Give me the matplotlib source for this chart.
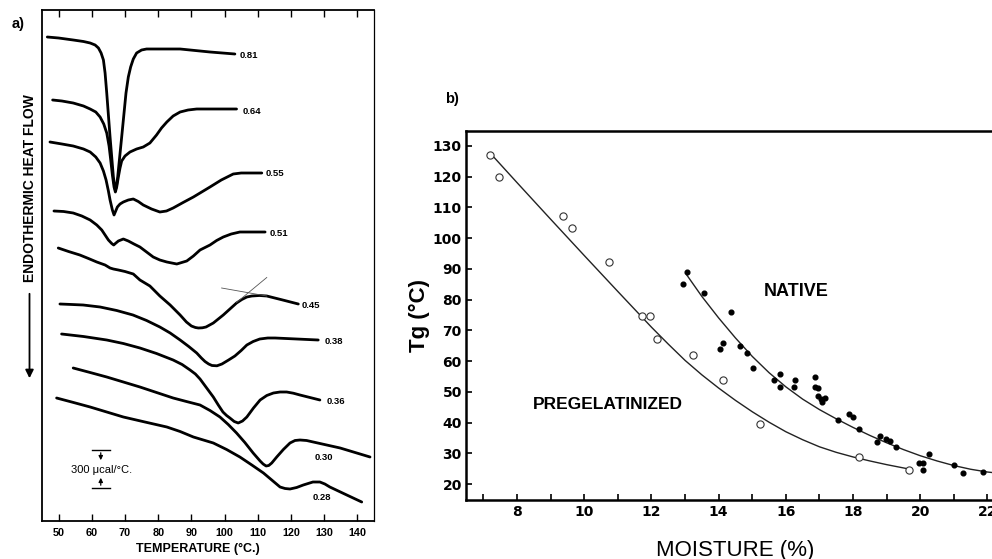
import numpy as np
import matplotlib
matplotlib.use("Agg")
import matplotlib.pyplot as plt
from matplotlib.ticker import MultipleLocator

plt.rcParams['font.family'] = ['Liberation Sans', 'DejaVu Sans']

# ---- panel a: DSC traces, temperature (deg C) vs heat flow (arbitrary offset units)
t_081 = [46.6, 50, 54.4, 57.5, 59.5, 61, 62, 62.8, 63.5, 64, 64.5, 65.5, 66.5, 66.9, 67.1, 67.4, 67.8,
         69.0, 70.3, 71, 71.7, 72.5, 73.5, 75, 76.5, 86.6, 95.6, 103.1]
h_081 = [484, 483, 481, 479.5, 478, 476, 473, 468, 461, 448, 428, 384, 344, 334, 331, 334, 344,
         384, 428, 444, 454, 462, 468, 471, 472, 472, 469, 467]

t_064 = [48.2, 51, 54.4, 57.5, 59.5, 61.2, 62.5, 63.6, 64.5, 65.2, 65.7, 66.2, 66.7, 67.1, 67.5, 68.0,
         68.5, 69.0, 70, 71.5, 73.5, 75.5, 77.5, 79.5, 81, 82.6, 84.5, 86.6, 89, 91.6, 103.6]
h_064 = [421, 420, 418, 415, 412, 409, 404, 397, 388, 375, 361, 346, 334, 329, 334, 344,
         353, 360, 365, 369, 372, 374, 378, 386, 393, 399, 405, 409, 411, 412, 412]

t_055 = [47.4, 51, 54.4, 57.5, 59.5, 61.2, 62.5, 63.5, 64.3, 65.0, 65.5, 66.2, 66.7, 67.2, 67.7, 68.5,
         69.5, 71, 72.5, 74, 75.5, 78, 80.5, 82.5, 84.5, 87.5, 90.6, 95.6, 99, 102.6, 105, 111.2]
h_055 = [379, 377, 375, 372, 369, 364, 358, 350, 341, 330, 321, 311, 306, 310, 314, 317,
         319, 321, 322, 319.5, 316, 312, 309, 310, 313, 318.5, 324, 334, 341, 347, 348, 348]

t_051 = [48.6, 51.5, 54.4, 57, 59.5, 61.5, 63.0, 64.2, 65.0, 66.0, 66.6, 67.1, 68.0, 69.5, 71.0, 72.7,
         74.5, 76.5, 78.5, 80.5, 82.6, 85.6, 88.6, 90.6, 92.6, 95.6, 97.6, 99.6, 102, 104.6, 112.2]
h_051 = [310, 309.5, 308, 305, 301, 296, 291, 285, 281, 277.5, 276, 277.5, 280, 282, 280, 277,
         274, 269, 264, 261, 259, 257, 260, 265, 271, 276, 280.5, 284, 287, 289, 289]

t_045 = [49.9, 53, 56.4, 59, 61.5, 64.0, 65.5, 66.5, 68.0, 70, 72.5, 74.5, 77.5, 80.5, 83.6, 86.6,
         88.5, 90.0, 91.2, 92.1, 93.3, 94.4, 96.6, 99.6, 101.6, 103.6, 105.2, 106.7, 108.2, 110.5,
         112.7, 117.5, 122.2]
h_045 = [273, 269.5, 266, 262.5, 259, 256, 253, 252, 251, 249.5, 247, 241, 235, 225, 216, 206,
         199, 195, 193.5, 193, 193.2, 194, 198, 206, 212, 218, 221.5, 224, 225, 225.5,
         225, 221, 217]

t_038 = [50.4, 54, 57.4, 62.5, 67.5, 72.4, 76.5, 80.5, 83.6, 86.6, 89.2, 91.6, 93, 94.1, 95.2, 96.2,
         97.7, 99.2, 101.2, 103.1, 105, 106.7, 108.6, 110.6, 113, 115.2, 128.2]
h_038 = [217, 216.5, 216, 214, 210.5, 206, 200.5, 194, 188, 181, 174.5, 168, 163, 159.5, 157, 155.5,
         155.2, 157, 161, 165, 170.5, 176, 179.5, 182, 183, 183, 181]

t_036 = [50.9, 57.5, 64.5, 69.5, 74.5, 79.5, 84.5, 87.2, 89.6, 91.2, 92.6, 94.6, 96.6, 98.1, 99.5,
         100.6, 101.6, 102.9, 104.1, 105.4, 106.7, 108.7, 110.7, 112.7, 114.7, 116.7, 118.7, 120.7,
         122.7, 128.7]
h_036 = [187, 184.5, 181, 177.5, 173, 167.5, 161, 156.5, 151, 147, 142, 133, 124, 116, 109,
         105.5, 103, 99.5, 98, 100, 104, 113, 121, 125.5, 128, 129, 129, 127.8,
         126, 121]

t_030 = [54.4, 59.5, 64.5, 69.5, 74.5, 79.5, 84.5, 88.5, 92.6, 95.6, 98.6, 101.1, 103.6, 106.1, 108.6,
         110.7, 111.6, 112.5, 113.3, 114.2, 115.7, 117.7, 119.7, 121.2, 122.7, 124.7, 126.7, 134.8, 143.8]
h_030 = [153, 148.5, 144, 139, 134, 128.5, 123, 119.5, 116, 110.5, 104, 96.5, 88, 78.5, 68,
         60, 57, 55, 55.5, 58, 64, 71.5, 78, 80.5, 81, 80.5, 79, 73, 64]

t_028 = [49.4, 54.5, 59.5, 64.5, 69.5, 76, 82.6, 86.6, 90.6, 93.6, 96.6, 100.6, 104.6, 108.2, 111.7,
         114.2, 116.7, 118.2, 119.7, 121.7, 123.7, 126.6, 128.7, 130.2, 131.7, 136.8, 141.3]
h_028 = [123, 118.5, 114, 109, 104, 99, 94, 89.5, 84, 81, 78, 71.5, 64, 56, 48,
         41, 34, 32.5, 32, 33.5, 36, 39, 39, 37, 34, 26, 19]

water_labels = ["0.81", "0.64", "0.55", "0.51", "0.45", "0.38", "0.36", "0.30", "0.28"]

# ---- panel b: Tg vs moisture
pregel_moist = [7.18, 7.46, 9.36, 9.64, 10.74, 11.73, 11.96, 12.16, 13.25, 14.14, 15.23, 18.17, 19.67]
pregel_tg = [127.1, 119.8, 107.2, 103.2, 92.2, 74.8, 74.8, 67.0, 62.0, 53.8, 39.5, 28.7, 24.6]

native_moist = [12.95, 13.05, 13.57, 14.36, 14.04, 14.14, 14.64, 14.84, 15.01, 15.64, 15.84, 15.83,
                16.26, 16.25, 16.87, 16.86, 16.97, 16.97, 17.04, 17.16, 17.08, 17.54, 17.87, 17.99,
                18.18, 18.71, 18.79, 18.97, 19.09, 19.28, 19.95, 20.07, 20.08, 20.26, 20.99, 21.28, 21.86]
native_tg = [84.9, 88.8, 82.1, 75.8, 63.8, 66.0, 64.9, 62.7, 57.8, 53.8, 55.7, 51.5,
             53.8, 51.5, 54.7, 51.5, 51.1, 48.7, 47.5, 48.1, 46.8, 40.8, 42.8, 41.9,
             38.0, 33.8, 35.6, 34.7, 33.9, 32.1, 26.7, 26.9, 24.6, 29.9, 26.1, 23.7, 23.9]

pregel_fit_moist = [7.3, 8, 9, 10, 11, 12, 12.5, 13, 13.5, 14, 14.5, 15, 15.5, 16, 16.5, 17, 17.5,
                    18, 18.5, 19, 19.7]
pregel_fit_tg = [126.4, 118.0, 106.1, 94.3, 82.6, 71.0, 65.5, 60.2, 55.5, 51.2, 47.2, 43.5, 40.1,
                 37.0, 34.4, 32.1, 30.3, 28.8, 27.5, 26.3, 24.8]

native_fit_moist = [13.05, 13.5, 14.0, 14.5, 15.0, 15.5, 16.0, 16.5, 17.0, 17.5, 18.0, 18.5, 19.0,
                    19.5, 20.0, 20.5, 21.0, 21.5, 22.0, 22.6]
native_fit_tg = [88.0, 81.0, 74.0, 67.5, 61.5, 56.2, 51.6, 47.6, 44.2, 41.2, 38.4, 35.8, 33.4,
                 31.2, 29.2, 27.5, 26.0, 24.8, 23.9, 23.2]


W, H = 992, 559
fig = plt.figure(figsize=(W / 100, H / 100), dpi=100)

# ================= panel a =================
ax1 = fig.add_axes([42 / W, 38 / H, 332 / W, 511 / H])
curves = [(t_081, h_081), (t_064, h_064), (t_055, h_055), (t_051, h_051), (t_045, h_045),
          (t_038, h_038), (t_036, h_036), (t_030, h_030), (t_028, h_028)]
for t, h in curves:
    ax1.plot(t, h, color='black', lw=2.0, solid_joinstyle='round', solid_capstyle='round')

# curve labels (water content)
label_pos = [(104.6, 466), (105.3, 410), (112.5, 347), (113.7, 288), (123.3, 216),
             (130.0, 179), (130.8, 119), (127.2, 64), (126.6, 24)]
for lab, (x, y) in zip(water_labels, label_pos):
    ax1.text(x, y, lab, fontsize=6.8, fontweight='bold', ha='left', va='center')

# tangent construction on the 0.45 trace
ax1.plot([99.1, 112.7], [233, 225], color='#555555', lw=0.6)
ax1.plot([103.6, 112.7], [218.5, 243.5], color='#555555', lw=0.6)

# scale bar 300 ucal/degC
ax1.plot([60.0, 65.5], [71, 71], color='black', lw=1.0)
ax1.plot([60.0, 65.5], [33, 33], color='black', lw=1.0)
ax1.annotate("", xy=(62.7, 58), xytext=(62.7, 71),
             arrowprops=dict(arrowstyle='-|>', color='black', lw=0.9, mutation_scale=6))
ax1.annotate("", xy=(62.7, 46), xytext=(62.7, 33),
             arrowprops=dict(arrowstyle='-|>', color='black', lw=0.9, mutation_scale=6))
ax1.text(53.6, 51, "300 \u03bccal/\u00b0C.", fontsize=8, ha='left', va='center')

ax1.set_xlim(45, 145)
ax1.set_ylim(0, 511)
ax1.set_xticks(np.arange(50, 141, 10))
ax1.set_yticks([])
ax1.tick_params(axis='x', direction='in', length=5, width=1.0, top=True, pad=5, labelsize=7.8)
for lab in ax1.get_xticklabels():
    lab.set_fontweight('bold')
for side in ['left', 'bottom', 'top']:
    ax1.spines[side].set_linewidth(1.3)
ax1.spines['right'].set_linewidth(0.9)
ax1.set_xlabel("TEMPERATURE (\u00b0C.)", fontsize=9, fontweight='bold')
ax1.xaxis.set_label_coords(0.468, -0.043)

fig.text(30 / W, 1 - 188 / H, "ENDOTHERMIC HEAT FLOW", rotation=90, fontsize=10,
         fontweight='bold', ha='center', va='center')
ax1.annotate("", xy=(29.5 / W, 1 - 381 / H), xytext=(29.5 / W, 1 - 291 / H),
             xycoords='figure fraction', textcoords='figure fraction',
             arrowprops=dict(arrowstyle='-|>', color='black', lw=1.3, mutation_scale=12))
fig.text(12 / W, 1 - 24 / H, "a)", fontsize=10.5, fontweight='bold', ha='left', va='center')

# ================= panel b =================
ax2 = fig.add_axes([466 / W, 59 / H, 541.6 / W, 369 / H])
ax2.plot(pregel_fit_moist, pregel_fit_tg, color='#222222', lw=1.0, zorder=2)
ax2.plot(native_fit_moist, native_fit_tg, color='#222222', lw=1.0, zorder=2)
ax2.plot(pregel_moist, pregel_tg, 'o', ms=5.2, mfc='white', mec='#333333', mew=0.8, zorder=3)
ax2.plot(native_moist, native_tg, 'o', ms=3.4, color='black', zorder=3)

ax2.text(16.3, 82.5, "NATIVE", fontsize=13, fontweight='bold', ha='center', va='center')
ax2.text(10.7, 45.7, "PREGELATINIZED", fontsize=12.5, fontweight='bold', ha='center', va='center')

ax2.set_xlim(6.48, 22.6)
ax2.set_ylim(14.8, 134.8)
ax2.xaxis.set_major_locator(MultipleLocator(2))
ax2.xaxis.set_minor_locator(MultipleLocator(1))
ax2.set_yticks(np.arange(20, 131, 10))
ax2.tick_params(axis='both', which='both', direction='in', length=4, width=1.2)
ax2.tick_params(axis='x', pad=3.5)
ax2.tick_params(axis='y', pad=3)
for lab in ax2.get_xticklabels() + ax2.get_yticklabels():
    lab.set_fontfamily('DejaVu Sans')
    lab.set_fontweight('bold')
    lab.set_fontsize(10)
for side in ['left', 'bottom', 'top']:
    ax2.spines[side].set_linewidth(1.8)
ax2.spines['right'].set_visible(False)

ax2.set_ylabel("Tg (\u00b0C)", fontsize=16, fontweight='bold')
ax2.yaxis.set_label_coords(-0.066, 0.5)
ax2.set_xlabel("MOISTURE (%)", fontsize=16)
ax2.xaxis.set_label_coords(0.497, -0.108)

fig.text(445 / W, 1 - 99 / H, "b)", fontsize=10.5, fontweight='bold', ha='left', va='center')

fig.savefig("out.png", dpi=100)
